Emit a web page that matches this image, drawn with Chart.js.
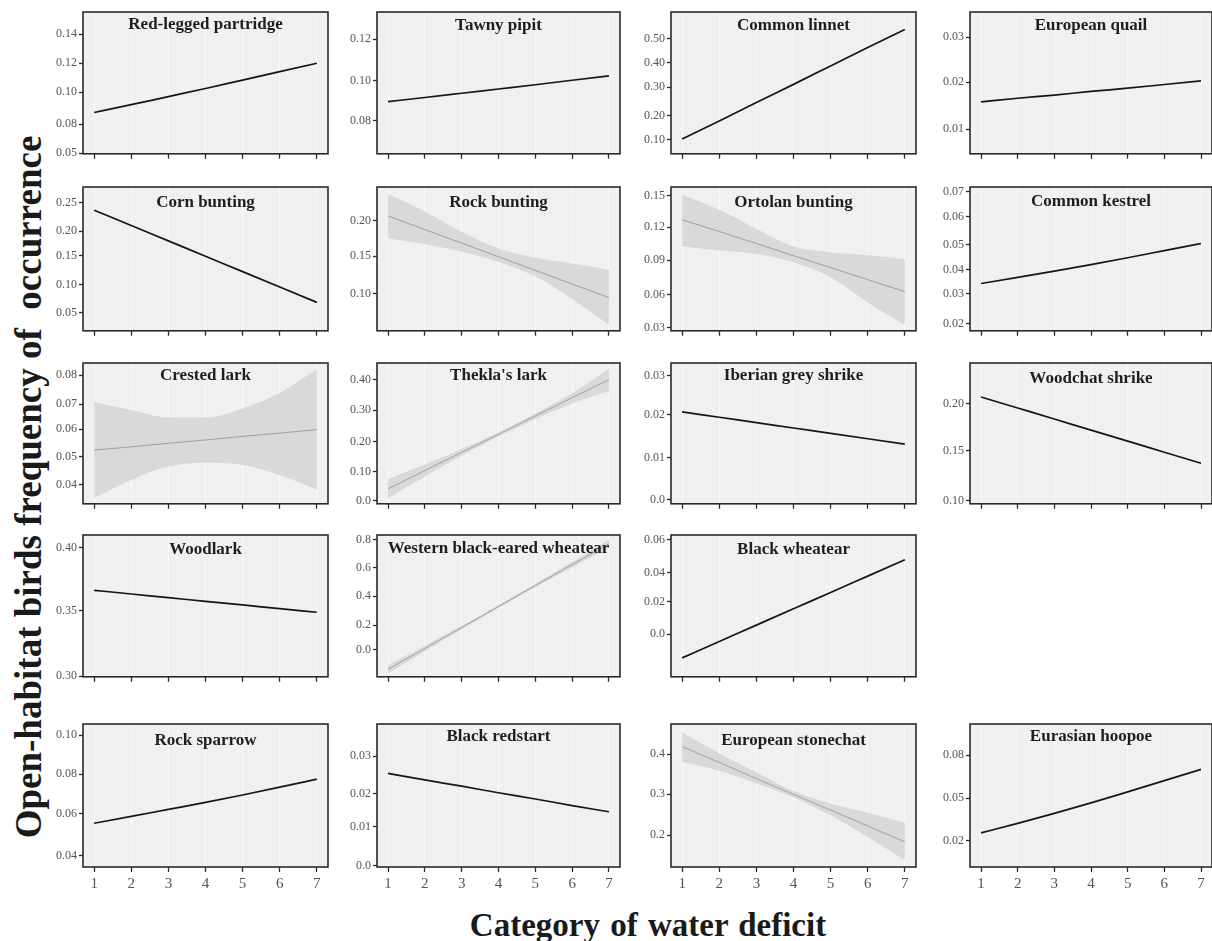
<!DOCTYPE html>
<html>
<head>
<meta charset="utf-8">
<script src="https://cdn.jsdelivr.net/npm/chart.js@4.4.1/dist/chart.umd.min.js"></script>
<style>
  html, body { margin: 0; padding: 0; background: #ffffff; }
  #fig { position: relative; width: 1212px; height: 941px; overflow: hidden; }
  .panel { position: absolute; display: block; }
  .axis-title {
    position: absolute; white-space: pre; color: #1a1a1a;
    font-family: "Liberation Serif", "Times New Roman", serif; font-weight: bold;
  }
  #ytitle { left: 28px; top: 487px; font-size: 37px; transform: translate(-50%, -50%) rotate(-90deg); }
  #xtitle { left: 648px; top: 925px; font-size: 33px; word-spacing: 2px; transform: translate(-50%, -50%); }
</style>
</head>
<body>
<div id="fig">
  <div class="axis-title" id="ytitle">Open-habitat birds frequency of  occurrence</div>
  <div class="axis-title" id="xtitle">Category of water deficit</div>
</div>
<script>
// Water-deficit categories on the x axis
const waterDeficit = [1, 2, 3, 4, 5, 6, 7];

// Fitted frequency of occurrence per species (one value per category)
const fitRedLeggedPartridge = [0.0860, 0.0914, 0.0970, 0.1026, 0.1084, 0.1142, 0.1200];
const fitTawnyPipit         = [0.0893, 0.0913, 0.0934, 0.0955, 0.0976, 0.0998, 0.1020];
const fitCommonLinnet       = [0.103, 0.175, 0.248, 0.320, 0.393, 0.466, 0.538];
const fitEuropeanQuail      = [0.0159, 0.0167, 0.0174, 0.0182, 0.0189, 0.0197, 0.0205];
const fitCornBunting        = [0.2367, 0.209, 0.181, 0.153, 0.125, 0.097, 0.069];
const fitRockBunting        = [0.2069, 0.1882, 0.1696, 0.1509, 0.1322, 0.1135, 0.0949];
const fitOrtolanBunting     = [0.1278, 0.1172, 0.1063, 0.0952, 0.0844, 0.0735, 0.0625];
const fitCommonKestrel      = [0.0352, 0.0375, 0.0399, 0.0424, 0.0450, 0.0477, 0.0504];
const fitCrestedLark        = [0.0527, 0.0539, 0.0552, 0.0564, 0.0577, 0.0589, 0.0602];
const fitTheklasLark        = [0.0385, 0.099, 0.159, 0.219, 0.280, 0.340, 0.400];
const fitIberianGreyShrike  = [0.0212, 0.0199, 0.0186, 0.0173, 0.0160, 0.0147, 0.0134];
const fitWoodchatShrike     = [0.2068, 0.1954, 0.1840, 0.1726, 0.1612, 0.1498, 0.1384];
const fitWoodlark           = [0.3668, 0.3639, 0.3611, 0.3582, 0.3554, 0.3525, 0.3497];
const fitBlackEaredWheatear = [-0.145, 0.008, 0.160, 0.313, 0.466, 0.618, 0.771];
const fitBlackWheatear      = [-0.0150, -0.0046, 0.0058, 0.0162, 0.0265, 0.0369, 0.0473];
const fitRockSparrow        = [0.0560, 0.0594, 0.0629, 0.0664, 0.0701, 0.0740, 0.0780];
const fitBlackRedstart      = [0.0253, 0.0235, 0.0218, 0.0200, 0.0183, 0.0165, 0.0148];
const fitEuropeanStonechat  = [0.419, 0.380, 0.340, 0.301, 0.262, 0.223, 0.1835];
const fitEurasianHoopoe     = [0.0256, 0.0323, 0.0393, 0.0466, 0.0543, 0.0621, 0.0700];

// Confidence bands (lower / upper) for the species that show one
const loRockBunting        = [0.1760, 0.1682, 0.1576, 0.1438, 0.1240, 0.0930, 0.0576];
const hiRockBunting        = [0.2369, 0.2129, 0.1852, 0.1622, 0.1498, 0.1415, 0.1332];
const loOrtolanBunting     = [0.1038, 0.0999, 0.0968, 0.0892, 0.0756, 0.0528, 0.0324];
const hiOrtolanBunting     = [0.1509, 0.1369, 0.1196, 0.1035, 0.0984, 0.0956, 0.0923];
const loCrestedLark        = [0.0352, 0.0418, 0.0467, 0.0481, 0.0473, 0.0436, 0.0382];
const hiCrestedLark        = [0.0703, 0.0673, 0.0646, 0.0646, 0.0679, 0.0736, 0.0822];
const loTheklasLark        = [0.0077, 0.0791, 0.1484, 0.2121, 0.2692, 0.3209, 0.3626];
const hiTheklasLark        = [0.0703, 0.1187, 0.1703, 0.2253, 0.2879, 0.3549, 0.4363];
const loBlackEaredWheatear = [-0.175, -0.012, 0.148, 0.303, 0.454, 0.598, 0.741];
const hiBlackEaredWheatear = [-0.115, 0.028, 0.172, 0.323, 0.478, 0.638, 0.801];
const loEuropeanStonechat  = [0.3818, 0.3595, 0.3281, 0.2934, 0.2496, 0.1959, 0.1380];
const hiEuropeanStonechat  = [0.4537, 0.4025, 0.3554, 0.3091, 0.2785, 0.2554, 0.2306];

// Y-axis tick positions and the labels printed at them
const ticksRedLeggedPartridge = [0.14, 0.12, 0.10, 0.078, 0.058];
const labelsRedLeggedPartridge = ["0.14", "0.12", "0.10", "0.08", "0.05"];
const ticksTawnyPipit = [0.12, 0.0995, 0.080];
const labelsTawnyPipit = ["0.12", "0.10", "0.08"];
const ticksCommonLinnet = [0.50, 0.405, 0.309, 0.195, 0.10];
const labelsCommonLinnet = ["0.50", "0.40", "0.30", "0.20", "0.10"];
const ticksEuropeanQuail = [0.03, 0.0202, 0.01];
const labelsEuropeanQuail = ["0.03", "0.02", "0.01"];
const ticksCornBunting = [0.25, 0.1985, 0.1536, 0.1015, 0.05];
const labelsCornBunting = ["0.25", "0.20", "0.15", "0.10", "0.05"];
const ticksRockBunting = [0.20, 0.1516, 0.100];
const labelsRockBunting = ["0.20", "0.15", "0.10"];
const ticksOrtolanBunting = [0.15, 0.121, 0.091, 0.060, 0.030];
const labelsOrtolanBunting = ["0.15", "0.12", "0.09", "0.06", "0.03"];
const ticksCommonKestrel = [0.07, 0.0606, 0.0499, 0.0404, 0.0313, 0.020];
const labelsCommonKestrel = ["0.07", "0.06", "0.05", "0.04", "0.03", "0.02"];
const ticksCrestedLark = [0.08, 0.0695, 0.0604, 0.0503, 0.040];
const labelsCrestedLark = ["0.08", "0.07", "0.06", "0.05", "0.04"];
const ticksTheklasLark = [0.40, 0.299, 0.1945, 0.0956, 0.0];
const labelsTheklasLark = ["0.40", "0.30", "0.20", "0.10", "0.0"];
const ticksIberianGreyShrike = [0.03, 0.0206, 0.0102, 0.0];
const labelsIberianGreyShrike = ["0.03", "0.02", "0.01", "0.0"];
const ticksWoodchatShrike = [0.20, 0.1514, 0.10];
const labelsWoodchatShrike = ["0.20", "0.15", "0.10"];
const ticksWoodlark = [0.40, 0.351, 0.30];
const labelsWoodlark = ["0.40", "0.35", "0.30"];
const ticksBlackEaredWheatear = [0.8, 0.594, 0.388, 0.177, 0.0];
const labelsBlackEaredWheatear = ["0.8", "0.6", "0.4", "0.2", "0.0"];
const ticksBlackWheatear = [0.06, 0.0391, 0.0205, 0.0];
const labelsBlackWheatear = ["0.06", "0.04", "0.02", "0.0"];
const ticksRockSparrow = [0.10, 0.0805, 0.0608, 0.04];
const labelsRockSparrow = ["0.10", "0.08", "0.06", "0.04"];
const ticksBlackRedstart = [0.03, 0.0198, 0.0107, 0.0];
const labelsBlackRedstart = ["0.03", "0.02", "0.01", "0.0"];
const ticksEuropeanStonechat = [0.4, 0.3017, 0.2];
const labelsEuropeanStonechat = ["0.4", "0.3", "0.2"];
const ticksEurasianHoopoe = [0.08, 0.05, 0.02];
const labelsEurasianHoopoe = ["0.08", "0.05", "0.02"];

// Panel grid geometry (plot-box left edges / widths per column, tops / heights per row)
const colLeft = [83, 377, 671, 970];
const colWidth = [245, 243, 245, 242];
const rowTop = [12, 187, 363, 535, 724];
const rowHeight = [142, 144, 141, 142, 143];

// One entry per facet: title, data, axis range, grid cell, title offset
const panels = [
  { name: "Red-legged partridge", fit: fitRedLeggedPartridge, ticks: ticksRedLeggedPartridge, labels: labelsRedLeggedPartridge, range: [0.0575, 0.1554], row: 0, col: 0, dy: 13 },
  { name: "Tawny pipit", fit: fitTawnyPipit, ticks: ticksTawnyPipit, labels: labelsTawnyPipit, range: [0.0636, 0.1334], row: 0, col: 1, dy: 14 },
  { name: "Common linnet", fit: fitCommonLinnet, ticks: ticksCommonLinnet, labels: labelsCommonLinnet, range: [0.0446, 0.607], row: 0, col: 2, dy: 14 },
  { name: "European quail", fit: fitEuropeanQuail, ticks: ticksEuropeanQuail, labels: labelsEuropeanQuail, range: [0.0046, 0.0355], row: 0, col: 3, dy: 14 },
  { name: "Corn bunting", fit: fitCornBunting, ticks: ticksCornBunting, labels: labelsCornBunting, range: [0.0173, 0.279], row: 1, col: 0, dy: 16 },
  { name: "Rock bunting", fit: fitRockBunting, lo: loRockBunting, hi: hiRockBunting, ticks: ticksRockBunting, labels: labelsRockBunting, range: [0.0493, 0.2466], row: 1, col: 1, dy: 16 },
  { name: "Ortolan bunting", fit: fitOrtolanBunting, lo: loOrtolanBunting, hi: hiOrtolanBunting, ticks: ticksOrtolanBunting, labels: labelsOrtolanBunting, range: [0.027, 0.1576], row: 1, col: 2, dy: 16 },
  { name: "Common kestrel", fit: fitCommonKestrel, ticks: ticksCommonKestrel, labels: labelsCommonKestrel, range: [0.0172, 0.0719], row: 1, col: 3, dy: 15 },
  { name: "Crested lark", fit: fitCrestedLark, lo: loCrestedLark, hi: hiCrestedLark, ticks: ticksCrestedLark, labels: labelsCrestedLark, range: [0.0331, 0.0845], row: 2, col: 0, dy: 13 },
  { name: "Thekla's lark", fit: fitTheklasLark, lo: loTheklasLark, hi: hiTheklasLark, ticks: ticksTheklasLark, labels: labelsTheklasLark, range: [-0.011, 0.455], row: 2, col: 1, dy: 13 },
  { name: "Iberian grey shrike", fit: fitIberianGreyShrike, ticks: ticksIberianGreyShrike, labels: labelsIberianGreyShrike, range: [-0.001, 0.033], row: 2, col: 2, dy: 13 },
  { name: "Woodchat shrike", fit: fitWoodchatShrike, ticks: ticksWoodchatShrike, labels: labelsWoodchatShrike, range: [0.0966, 0.2418], row: 2, col: 3, dy: 16 },
  { name: "Woodlark", fit: fitWoodlark, ticks: ticksWoodlark, labels: labelsWoodlark, range: [0.2995, 0.4098], row: 3, col: 0, dy: 15 },
  { name: "Western black-eared wheatear", fit: fitBlackEaredWheatear, lo: loBlackEaredWheatear, hi: hiBlackEaredWheatear, ticks: ticksBlackEaredWheatear, labels: labelsBlackEaredWheatear, range: [-0.199, 0.834], row: 3, col: 1, dy: 14 },
  { name: "Black wheatear", fit: fitBlackWheatear, ticks: ticksBlackWheatear, labels: labelsBlackWheatear, range: [-0.027, 0.063], row: 3, col: 2, dy: 15 },
  { name: "Rock sparrow", fit: fitRockSparrow, ticks: ticksRockSparrow, labels: labelsRockSparrow, range: [0.0342, 0.1055], row: 4, col: 0, dy: 17 },
  { name: "Black redstart", fit: fitBlackRedstart, ticks: ticksBlackRedstart, labels: labelsBlackRedstart, range: [-0.0003, 0.0388], row: 4, col: 1, dy: 13 },
  { name: "European stonechat", fit: fitEuropeanStonechat, lo: loEuropeanStonechat, hi: hiEuropeanStonechat, ticks: ticksEuropeanStonechat, labels: labelsEuropeanStonechat, range: [0.1215, 0.475], row: 4, col: 2, dy: 17 },
  { name: "Eurasian hoopoe", fit: fitEurasianHoopoe, ticks: ticksEurasianHoopoe, labels: labelsEurasianHoopoe, range: [0.0018, 0.1017], row: 4, col: 3, dy: 13 }
];

const SERIF = '"Liberation Serif", "Times New Roman", serif';
const AXIS_W = 60;   // room for y tick labels + tick marks
const PAD_T = 10;
const PAD_R = 8;

const toPoints = arr => arr.map((v, i) => ({ x: waterDeficit[i], y: v }));

// Grey panel background, dark frame and the facet title
const panelDecor = {
  id: 'panelDecor',
  beforeDraw(chart) {
    const a = chart.chartArea, ctx = chart.ctx;
    ctx.save();
    ctx.fillStyle = '#f0f0f0';
    ctx.fillRect(a.left, a.top, a.right - a.left, a.bottom - a.top);
    ctx.restore();
  },
  afterDraw(chart, args, opts) {
    const a = chart.chartArea, ctx = chart.ctx;
    ctx.save();
    ctx.strokeStyle = '#2a2a2a';
    ctx.lineWidth = 1.6;
    ctx.strokeRect(a.left, a.top, a.right - a.left, a.bottom - a.top);
    ctx.fillStyle = '#1e1e1e';
    ctx.font = 'bold 17px ' + SERIF;
    ctx.textAlign = 'center';
    ctx.textBaseline = 'middle';
    ctx.fillText(opts.title, (a.left + a.right) / 2, a.top + opts.dy);
    ctx.restore();
  }
};

const fig = document.getElementById('fig');

panels.forEach(p => {
  const bottomRow = p.row === 4;
  const xh = bottomRow ? 34 : 9;
  const bw = colWidth[p.col], bh = rowHeight[p.row];
  const W = AXIS_W + bw + PAD_R;
  const H = PAD_T + bh + xh;

  const canvas = document.createElement('canvas');
  canvas.className = 'panel';
  canvas.width = W; canvas.height = H;
  canvas.style.width = W + 'px'; canvas.style.height = H + 'px';
  canvas.style.left = (colLeft[p.col] - AXIS_W) + 'px';
  canvas.style.top = (rowTop[p.row] - PAD_T) + 'px';
  fig.appendChild(canvas);

  // Higher "order" is drawn first, so the band sits beneath the fitted line
  const datasets = [];
  if (p.lo) {
    datasets.push({ data: toPoints(p.lo), order: 2, borderWidth: 0, pointRadius: 0, fill: false, cubicInterpolationMode: 'monotone' });
    datasets.push({ data: toPoints(p.hi), order: 1, borderWidth: 0, pointRadius: 0, fill: '-1', backgroundColor: '#d9d9d9', cubicInterpolationMode: 'monotone' });
    datasets.push({ data: toPoints(p.fit), order: 0, borderColor: '#a0a0a0', borderWidth: 1, pointRadius: 0, fill: false });
  } else {
    datasets.push({ data: toPoints(p.fit), order: 0, borderColor: '#151515', borderWidth: 1.7, pointRadius: 0, fill: false, cubicInterpolationMode: 'monotone' });
  }

  new Chart(canvas, {
    type: 'line',
    data: { datasets },
    options: {
      responsive: false,
      animation: false,
      devicePixelRatio: 1,
      layout: { padding: { left: 0, top: PAD_T, right: PAD_R, bottom: 0 } },
      plugins: {
        legend: { display: false },
        tooltip: { enabled: false },
        panelDecor: { title: p.name, dy: p.dy }
      },
      scales: {
        x: {
          type: 'linear', min: 0.7, max: 7.3,
          afterBuildTicks: s => { s.ticks = waterDeficit.map(v => ({ value: v })); },
          afterFit: s => { s.height = xh; },
          ticks: {
            display: bottomRow, autoSkip: false, maxRotation: 0, padding: 3,
            color: '#555555', font: { family: SERIF, size: 15 },
            callback: v => String(v)
          },
          grid: {
            drawOnChartArea: true, color: 'rgba(255,255,255,0.65)', lineWidth: 1,
            drawTicks: true, tickLength: 5, tickColor: '#2a2a2a', tickWidth: 1.3
          },
          border: { display: false }
        },
        y: {
          type: 'linear', min: p.range[0], max: p.range[1],
          afterBuildTicks: s => { s.ticks = p.ticks.map(v => ({ value: v })); },
          afterFit: s => { s.width = AXIS_W; },
          ticks: {
            autoSkip: false, padding: 2,
            color: '#555555', font: { family: SERIF, size: 12 },
            callback: v => p.labels[p.ticks.indexOf(v)]
          },
          grid: {
            drawOnChartArea: false, drawTicks: true, tickLength: 4,
            tickColor: '#2a2a2a', tickWidth: 1.3
          },
          border: { display: false }
        }
      }
    },
    plugins: [panelDecor]
  });
});
</script>
</body>
</html>
